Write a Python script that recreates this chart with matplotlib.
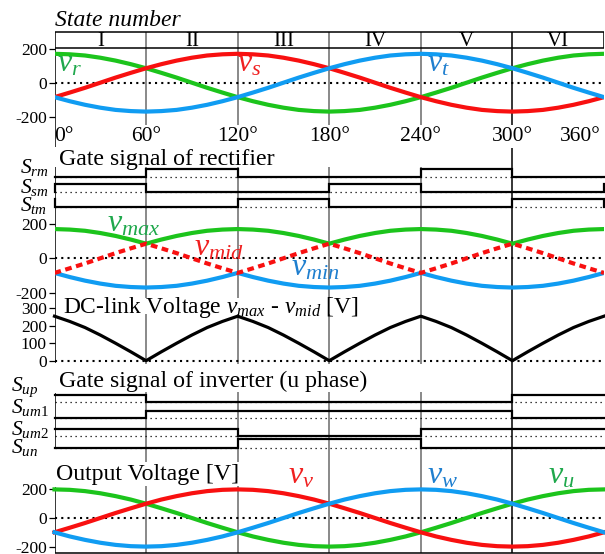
import numpy as np
import matplotlib
matplotlib.use('Agg')
import matplotlib.pyplot as plt
from matplotlib.patches import Rectangle

plt.rcParams['font.family'] = ['Liberation Serif', 'DejaVu Serif']
plt.rcParams['mathtext.fontset'] = 'custom'
plt.rcParams['mathtext.it'] = 'Liberation Serif:italic'
plt.rcParams['mathtext.rm'] = 'Liberation Serif'
plt.rcParams['mathtext.bf'] = 'Liberation Serif:bold'
plt.rcParams['axes.unicode_minus'] = False

# ---------------- data ----------------
angle_deg = list(range(0, 361, 10))
# input phase voltages [V]
v_r = [170, 167, 160, 147, 130, 109, 85, 58, 30, 0, -30, -58, -85, -109, -130, -147, -160, -167,
       -170, -167, -160, -147, -130, -109, -85, -58, -30, 0, 30, 58, 85, 109, 130, 147, 160, 167, 170]
v_s = [-85, -58, -30, 0, 30, 58, 85, 109, 130, 147, 160, 167, 170, 167, 160, 147, 130, 109,
       85, 58, 30, 0, -30, -58, -85, -109, -130, -147, -160, -167, -170, -167, -160, -147, -130, -109, -85]
v_t = [-85, -109, -130, -147, -160, -167, -170, -167, -160, -147, -130, -109, -85, -58, -30, 0, 30, 58,
       85, 109, 130, 147, 160, 167, 170, 167, 160, 147, 130, 109, 85, 58, 30, 0, -30, -58, -85]
# output phase voltages [V]
v_u = [200, 197, 188, 173, 153, 129, 100, 68, 35, 0, -35, -68, -100, -129, -153, -173, -188, -197,
       -200, -197, -188, -173, -153, -129, -100, -68, -35, 0, 35, 68, 100, 129, 153, 173, 188, 197, 200]
v_v = [-100, -68, -35, 0, 35, 68, 100, 129, 153, 173, 188, 197, 200, 197, 188, 173, 153, 129,
       100, 68, 35, 0, -35, -68, -100, -129, -153, -173, -188, -197, -200, -197, -188, -173, -153, -129, -100]
v_w = [-100, -129, -153, -173, -188, -197, -200, -197, -188, -173, -153, -129, -100, -68, -35, 0, 35, 68,
       100, 129, 153, 173, 188, 197, 200, 197, 188, 173, 153, 129, 100, 68, 35, 0, -35, -68, -100]

sector_names = ['I', 'II', 'III', 'IV', 'V', 'VI']
sector_edges = [0, 60, 120, 180, 240, 300, 360]
angle_ticks = [0, 60, 120, 180, 240, 300, 360]
angle_labels = ['0°', '60°', '120°', '180°', '240°', '300°', '360°']
phase_ticks = [200, 0, -200]
phase_tick_labels = ['200', '0', '-200']
dc_ticks = [300, 200, 100, 0]
dc_tick_labels = ['300', '200', '100', '0']

# gate signals, one value per sector I..VI
S_rm = [0, 1, 0, 0, 1, 0]
S_sm = [1, 0, 0, 1, 0, 0]
S_tm = [0, 0, 1, 0, 0, 1]
S_up = [1, 0, 0, 0, 0, 1]
S_um1 = [0, 1, 1, 1, 1, 0]
S_um2 = [1, 1, 0, 0, 1, 1]
S_un = [0, 0, 1, 1, 0, 0]

# derived
V_in = np.array([v_r, v_s, v_t])
v_max = V_in.max(axis=0)
v_min = V_in.min(axis=0)
v_mid = np.median(V_in, axis=0)
v_dc = v_max - v_mid

# ---------------- styling ----------------
GREEN = '#1cc41c'
RED = '#f81010'
BLUE = '#109cf2'
T_GREEN = '#1fa84c'
T_RED = '#f02020'
T_BLUE = '#1f7fcf'
LW_WAVE = 3.0

W, H = 605, 554
X0, X1 = 54.5, 604.0

fig = plt.figure(figsize=(W / 100, H / 100), dpi=100)
fig.patch.set_facecolor('white')


def px_axes(y_top, y_bot, z=2):
    ax = fig.add_axes([X0 / W, 1 - y_bot / H, (X1 - X0) / W, (y_bot - y_top) / H])
    ax.set_zorder(z)
    ax.patch.set_visible(False)
    ax.set_xlim(0, 360)
    for sp in ax.spines.values():
        sp.set_visible(False)
    ax.set_xticks([])
    return ax


def ylim_for(ax, zero_px, scale, y_top, y_bot):
    ax.set_ylim(-(y_bot - zero_px) / scale, (zero_px - y_top) / scale)


def style_ticks(ax, ticks, labels):
    ax.set_yticks(ticks)
    ax.set_yticklabels(labels)
    ax.tick_params(axis='y', direction='out', length=4.5, width=0.9, labelsize=12.5, pad=1)


def ftext(x, y, s, **kw):
    fig.text(x / W, 1 - y / H, s, va='baseline', **kw)


def step_xy(states):
    xs, ys = [0], [states[-1]]
    for k, s in enumerate(states):
        xs += [sector_edges[k], sector_edges[k + 1]]
        ys += [s, s]
    xs.append(360)
    ys.append(states[0])
    return xs, ys


# ---------------- background: grid lines, frames, masks ----------------
bg = px_axes(0, H, z=0)
bg.set_ylim(H, 0)
bg.set_yticks([])
for e in sector_edges[1:-1]:
    col = 'black' if e == 300 else '#6a6a6a'
    bg.vlines(e, 32, 553, color=col, lw=1.1, zorder=1)
# state row frame
bg.hlines([32, 48], 0, 360, color='black', lw=1.1, zorder=3)
bg.vlines(360, 32, 48, color='black', lw=1.1, zorder=3)
for k, name in enumerate(sector_names):
    bg.text((sector_edges[k] + sector_edges[k + 1]) / 2, 46, name, ha='center', va='baseline',
            fontsize=15, zorder=4)
# white bands behind section titles
for (xa, xb, ya, yb) in [(-3, 250, 147, 167), (3, 205, 298, 314), (-3, 250, 364, 392), (-3, 124, 462, 486)]:
    bg.add_patch(Rectangle((xa, ya), xb - xa, yb - ya, fc='white', ec='none', zorder=2))
# left frame segments
for (ya, yb) in [(32, 147), (167, 363), (393, 449), (487, 553)]:
    bg.vlines(0, ya, yb, color='black', lw=1.1, zorder=6)
bg.hlines(553, 0, 360, color='black', lw=1.1, zorder=6)
# angle labels
for a, lab in zip(angle_ticks, angle_labels):
    ha = 'center'
    x = a
    if a == 0:
        ha = 'left'
        x = 0.0
    elif a == 360:
        ha = 'right'
        x = 357.5
    bg.text(x, 141, lab, ha=ha, va='baseline', fontsize=15.5, zorder=4,
            bbox=dict(boxstyle='square,pad=0.08', fc='white', ec='none'))

# ---------------- titles ----------------
ftext(55, 26, 'State number', fontsize=17, style='italic')
ftext(59, 165, 'Gate signal of rectifier', fontsize=17.2)
ftext(63, 313, r'DC-link Voltage $v_{max}$ - $v_{mid}$ [V]', fontsize=16.9)
ftext(59, 387, 'Gate signal of inverter (u phase)', fontsize=17.2)
ftext(56, 480, 'Output Voltage [V]', fontsize=17.2)

# ---------------- panel 1: input voltages ----------------
ax1 = px_axes(48, 147, z=3)
ylim_for(ax1, 82.7, 0.17, 48, 147)
style_ticks(ax1, phase_ticks, phase_tick_labels)
ax1.axhline(0, color='black', ls=(0, (1, 2)), lw=1.5, zorder=1)
ax1.plot(angle_deg, v_r, color=GREEN, lw=LW_WAVE, zorder=3)
ax1.plot(angle_deg, v_s, color=RED, lw=LW_WAVE, zorder=3)
ax1.plot(angle_deg, v_t, color=BLUE, lw=LW_WAVE, zorder=3)

# ---------------- panel 2: rectifier gate signals ----------------
rect_rows = [
    (r'$S_{rm}$', S_rm, 176.7, 169.3, 173.0),
    (r'$S_{sm}$', S_sm, 191.7, 184.3, 192.5),
    (r'$S_{tm}$', S_tm, 206.7, 199.3, 211.0),
]
inv_rows = [
    (r'$S_{up}$', S_up, 401.5, 394.7, 391.0),
    (r'$S_{um1}$', S_um1, 417.5, 410.5, 413.0),
    (r'$S_{um2}$', S_um2, 436.3, 429.0, 435.0),
    (r'$S_{un}$', S_un, 447.5, 439.4, 453.5),
]
for rows, lx in [(rect_rows, 20.5), (inv_rows, 11.5)]:
    for lab, states, yb, yh, ly in rows:
        ax = px_axes(yh, yb, z=4)
        ax.set_ylim(0, 1)
        ax.set_yticks([])
        ax.plot([0, 360], [0, 0], color='black', ls=(0, (1, 3)), lw=0.9, clip_on=False, zorder=1)
        xs, ys = step_xy(states)
        ax.plot(xs, ys, color='black', lw=1.6, clip_on=False, solid_joinstyle='miter', zorder=2)
        ftext(lx, ly, lab, fontsize=15.5, ha='left')

# ---------------- panel 3: max / mid / min ----------------
ax2 = px_axes(215, 297, z=3)
ylim_for(ax2, 258.3, 0.172, 215, 297)
style_ticks(ax2, phase_ticks, phase_tick_labels)
ax2.axhline(0, color='black', ls=(0, (1, 2)), lw=1.5, zorder=1)
ax2.plot(angle_deg, v_max, color=GREEN, lw=LW_WAVE, zorder=3)
ax2.plot(angle_deg, v_min, color=BLUE, lw=LW_WAVE, zorder=3)
ax2.plot(angle_deg, v_mid, color=RED, lw=LW_WAVE, dashes=(1.6, 1.1), zorder=3)

# ---------------- panel 4: DC link ----------------
ax3 = px_axes(297, 363, z=3)
ylim_for(ax3, 360.7, 0.1745, 297, 363)
style_ticks(ax3, dc_ticks, dc_tick_labels)
ax3.axhline(0, color='black', ls=(0, (1, 2)), lw=1.5, zorder=1)
ax3.plot(angle_deg, v_dc, color='black', lw=2.3, zorder=3, clip_on=False)

# ---------------- panel 5: output voltages ----------------
ax4 = px_axes(487, 553, z=3)
ylim_for(ax4, 518, 0.143, 487, 553)
style_ticks(ax4, phase_ticks, phase_tick_labels)
ax4.axhline(0, color='black', ls=(0, (1, 2)), lw=1.5, zorder=1)
ax4.plot(angle_deg, v_u, color=GREEN, lw=LW_WAVE, zorder=3, clip_on=False)
ax4.plot(angle_deg, v_v, color=RED, lw=LW_WAVE, zorder=3, clip_on=False)
ax4.plot(angle_deg, v_w, color=BLUE, lw=LW_WAVE, zorder=3, clip_on=False)

# ---------------- curve labels ----------------
LS = 23
for x, y, s, c in [
    (57, 72, r'$v_r$', T_GREEN), (237, 72, r'$v_s$', T_RED), (427, 71, r'$v_t$', T_BLUE),
    (107, 232, r'$v_{max}$', T_GREEN), (194, 255, r'$v_{mid}$', T_RED), (291, 276, r'$v_{min}$', T_BLUE),
    (288, 483, r'$v_v$', T_RED), (427, 483, r'$v_w$', T_BLUE), (548, 483, r'$v_u$', T_GREEN),
]:
    ftext(x, y, s, fontsize=LS, color=c, ha='left')

fig.savefig('out.png', dpi=100, facecolor='white')
